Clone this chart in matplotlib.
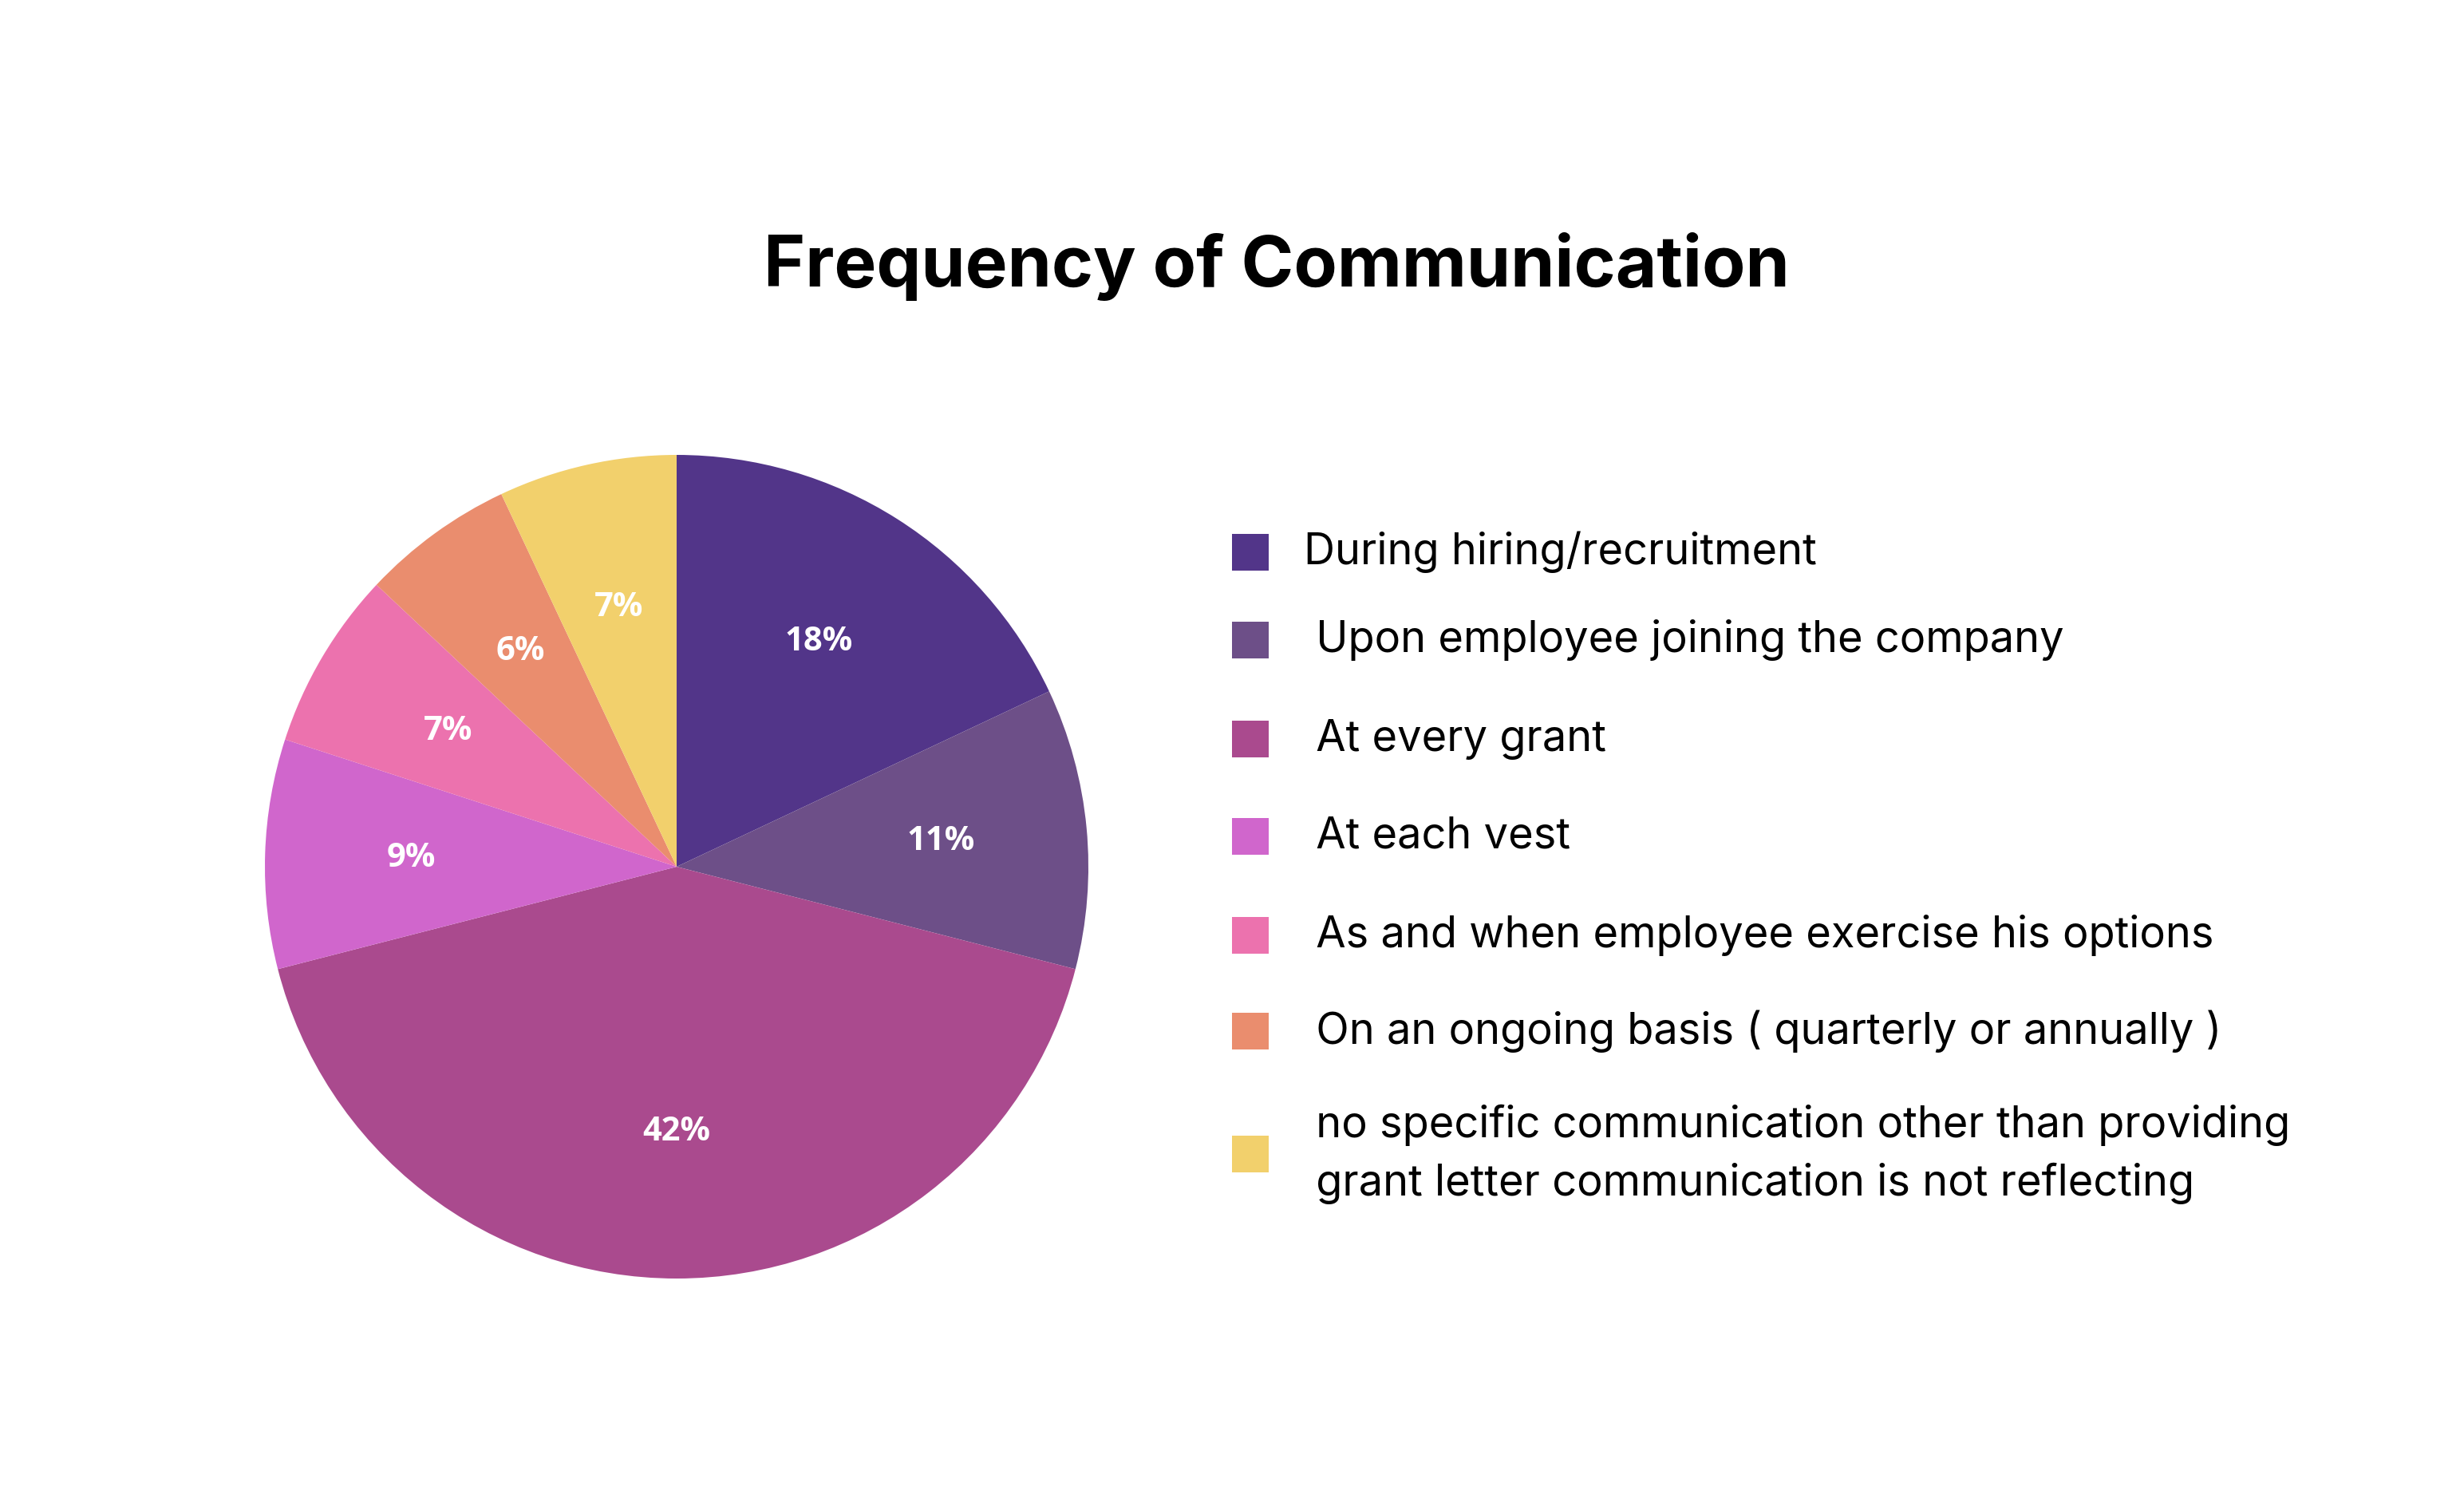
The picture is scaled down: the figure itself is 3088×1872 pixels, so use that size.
import matplotlib
matplotlib.use("Agg")
import matplotlib.pyplot as plt
from matplotlib.patches import Rectangle

categories = [
    "During hiring/recruitment",
    " Upon employee joining the company",
    " At every grant",
    " At each vest",
    " As and when employee exercise his options",
    " On an ongoing basis ( quarterly or annually )",
    " no specific communication other than providing\n grant letter communication is not reflecting",
]
values = [18, 11, 42, 9, 7, 6, 7]
colors = ["#523589", "#6D4F88", "#AA4A8E", "#D066CC", "#EC72AE", "#EA8D6E", "#F2D06C"]
title = "Frequency of Communication"

W, H = 3088, 1872
DPI = 200
fig = plt.figure(figsize=(W / DPI, H / DPI), dpi=DPI)
fig.patch.set_facecolor("white")

# pie axes: center (848,1086) px, radius 516 px
cx, cy, r = 848, 1086, 516
ax = fig.add_axes([(cx - r) / W, (H - cy - r) / H, 2 * r / W, 2 * r / H])
wedges, texts, autotexts = ax.pie(
    values, colors=colors, startangle=90, counterclock=False,
    autopct=lambda p: f"{p:.0f}%", pctdistance=0.645,
    wedgeprops=dict(linewidth=0),
    textprops=dict(color="white", fontsize=15, fontweight="bold", family=["Open Sans", "DejaVu Sans"]),
)
ax.set_xlim(-1, 1)
ax.set_ylim(-1, 1)
ax.set_aspect("equal")
ax.axis("off")

fig.text(1600 / W, 1 - 334 / H, title, ha="center", va="center",
         fontsize=32, fontweight="bold", family=["Inter", "DejaVu Sans"])

# legend
ys = [692, 802, 926, 1048, 1172, 1292, 1446]
sq = 46
for lab, col, y in zip(categories, colors, ys):
    fig.patches.append(Rectangle(((1567 - sq / 2) / W, 1 - (y + sq / 2) / H), sq / W, sq / H,
                                 transform=fig.transFigure, facecolor=col, edgecolor="none"))
    fig.text(1634 / W, 1 - y / H, lab, ha="left", va="center", fontsize=19.5,
             family=["Inter", "DejaVu Sans"], linespacing=1.5)

fig.savefig("out.png", dpi=DPI, facecolor="white")
